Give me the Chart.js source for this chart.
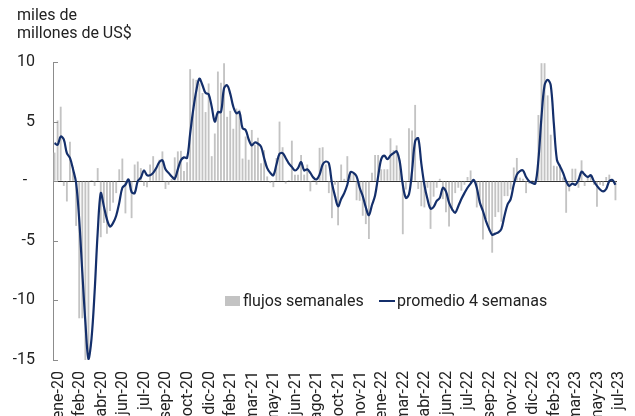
<!DOCTYPE html>
<html>
<head>
<meta charset="utf-8">
<script src="https://cdn.jsdelivr.net/npm/chart.js@4.4.0/dist/chart.umd.min.js"></script>
<style>
  html, body { margin: 0; padding: 0; background: #fff; overflow: hidden; }
  body { width: 635px; height: 416px; position: relative; font-family: Roboto, sans-serif; color: #222; }
  #wrap { position: absolute; left: 0; top: 0; width: 635px; height: 426px; }
  .title { position: absolute; left: 17px; top: 6px; font-size: 16px; line-height: 18px; }
  .legend { position: absolute; top: 291px; font-size: 16px; line-height: 20px; white-space: nowrap; }
  .legend .box { display: inline-block; width: 15px; height: 10px; background: #c3c3c3; vertical-align: middle; margin-right: 3px; position: relative; top: -1px; }
  .legend .ln { display: inline-block; width: 16px; height: 2px; background: #142f6b; vertical-align: middle; margin-right: 2px; position: relative; top: -1px; }
</style>
</head>
<body>
<div id="wrap"><canvas id="chart"></canvas></div>
<div class="title">miles de<br>millones de US$</div>
<div class="legend" style="left:225px"><span class="box"></span>flujos semanales</div>
<div class="legend" style="left:379px"><span class="ln"></span>promedio 4 semanas</div>
<script>
// weekly flows (bars), from first week of Jan-2020 to Jul-2023
const flows = [
  2.4, 5.1, 6.25, -0.4, -1.7, 3.3, 1.2, -3.75, -11.5, -11.5,
  -15, -15, 0.1, -0.4, 1.1, -4.7, -3.5, -4.4, -2.5, -1.8,
  -1.0, 1.0, 1.9, -2.7, 0.1, -3.1, 1.4, 1.65, 1.1, -0.4,
  -0.5, 1.4, 2.1, 1.0, 1.8, 2.5, -0.65, -0.3, 0.2, 2.0,
  2.5, 2.55, 0.85, 1.6, 9.4, 8.6, 8.5, 8.2, 7.4, 5.8,
  8.2, 2.1, 4.0, 9.2, 8.25, 9.9, 5.4, 5.9, 4.4, 6.1,
  6.0, 1.9, 3.75, 1.8, 4.3, 3.05, 3.65, 1.5, 2.6, 0.4,
  -0.15, -0.5, 1.95, 5.0, 2.85, -0.2, 0.1, 3.4, 0.55, 0.55,
  2.2, 0.55, 1.4, -0.85, 0.1, -0.3, 2.8, 2.85, 1.4, -1.0,
  -3.1, -0.3, -3.7, 1.4, 0.2, 2.1, 0.65, 0.6, -1.6, -1.65,
  -2.9, -3.6, -4.85, 0.7, 2.2, 2.2, 1.0, 1.0, 1.0, 3.6,
  2.6, 3.0, 1.8, -4.45, -0.7, 4.45, 4.25, 6.4, -0.65, -2.1,
  -2.2, -0.55, -4.0, -1.3, -0.55, 0.2, -1.5, -2.6, -3.8, -2.5,
  -1.0, -0.55, -0.8, -0.3, 0.35, 0.9, 0.1, -2.2, -1.8, -4.9,
  -3.2, -4.15, -6.0, -3.0, -2.6, -3.4, -1.25, -1.25, -0.7, 1.15,
  1.95, 0.3, 0.2, -1.0, -0.2, 0.1, -0.2, 5.55, 9.9, 9.9,
  7.2, 3.9, 1.3, 1.25, 1.4, 0.3, -2.65, -0.85, 1.05, 1.05,
  -0.55, 1.75, -0.4, 0.5, 0.4, -0.3, -2.15, -0.3, -0.4, 0.35,
  0.55, 0.2, -1.6
];

// 4-week moving average (line)
const avg4 = [
  3.2, 3.05, 3.75, 3.5, 2.35, 1.95, 1.0, -0.15, -3.2, -7.6,
  -11.8, -14.9, -13.2, -9.3, -4.3, -1.0, -2.1, -3.2, -3.8, -3.5,
  -2.9, -1.8, -0.55, -0.3, 0.15, -0.9, -1.0, 0.0, 0.3, 0.9,
  0.5, 0.5, 0.7, 1.1, 1.6, 1.75, 1.0, 0.7, 0.4, 0.2,
  1.0, 1.75, 2.0, 1.95, 4.0, 6.0, 7.6, 8.6, 8.05, 7.4,
  7.3, 6.25, 5.0, 5.8, 5.8, 7.8, 8.05, 7.35, 6.25, 5.7,
  5.8, 4.45, 4.3, 3.5, 3.0, 3.25, 3.15, 2.9, 1.95, 1.1,
  0.7, 0.5, 1.4, 2.3, 2.35, 1.95, 1.5, 1.2, 0.9, 1.1,
  1.6, 0.9, 1.0, 0.7, 0.3, 0.15, 0.55, 1.4, 1.65, 1.5,
  -0.15, -1.25, -2.1, -1.5, -1.0, -0.3, 0.75, 0.7, 0.4, -0.55,
  -1.25, -2.2, -2.85, -2.0, -1.2, 0.4, 1.85, 2.15, 1.85, 2.15,
  2.35, 2.5, 1.65, -0.3, -1.4, -1.1, 0.85, 3.35, 3.6, 1.5,
  -0.3, -1.5, -2.3, -2.15, -1.65, -1.4, -0.55, -0.85, -1.8, -2.35,
  -2.65, -2.1, -1.5, -1.0, -0.55, -0.2, 0.1, -0.55, -1.8, -2.5,
  -3.35, -4.0, -4.5, -4.4, -4.3, -4.0, -2.9, -1.95, -1.5, -0.3,
  0.55, 0.85, 0.9, 0.35, 0.0, -0.15, -0.2, 1.8, 5.4, 8.05,
  8.5, 8.05, 4.85, 1.8, 1.25, 0.7, 0.0, -0.4, -0.2, -0.3,
  0.1, 0.8, 0.55, 0.35, 0.5, 0.0, -0.4, -0.7, -0.85, -0.65,
  0.0, 0.1, -0.3
];

// axis labels, one every 7 weeks
const tickLabels = [
  'ene-20', 'feb-20', 'abr-20', 'jun-20', 'jul-20', 'sep-20', 'oct-20', 'dic-20',
  'feb-21', 'mar-21', 'may-21', 'jun-21', 'ago-21', 'oct-21', 'nov-21',
  'ene-22', 'mar-22', 'abr-22', 'jun-22', 'jul-22', 'sep-22', 'nov-22', 'dic-22',
  'feb-23', 'mar-23', 'may-23', 'jul-23'
];
const labelEvery = 7;
const yTicks = [-15, -10, -5, 0, 5, 10];

// week categories (dates of each weekly observation)
const start = new Date(2020, 0, 8);
const weeks = flows.map((_, i) => {
  const d = new Date(start.getTime() + i * 7 * 86400000);
  return d.toISOString().slice(0, 10);
});

// small inward tick marks on the y axis
const innerTicks = {
  id: 'innerTicks',
  afterDraw(chart) {
    const { ctx, chartArea, scales } = chart;
    ctx.save();
    ctx.strokeStyle = '#8c8c8c';
    ctx.lineWidth = 1;
    yTicks.forEach(v => {
      const y = Math.round(scales.y.getPixelForValue(v)) + 0.5;
      ctx.beginPath();
      ctx.moveTo(chartArea.left, y);
      ctx.lineTo(chartArea.left + 5, y);
      ctx.stroke();
    });
    ctx.restore();
  }
};

Chart.defaults.font.family = 'Roboto, sans-serif';
Chart.defaults.color = '#222';

new Chart(document.getElementById('chart'), {
  type: 'bar',
  data: {
    labels: weeks,
    datasets: [
      {
        type: 'line',
        label: 'promedio 4 semanas',
        data: avg4,
        borderColor: '#142f6b',
        borderWidth: 2.2,
        pointRadius: 0,
        tension: 0.35,
        fill: false,
        order: 0
      },
      {
        label: 'flujos semanales',
        data: flows,
        backgroundColor: '#c3c3c3',
        barPercentage: 0.6,
        categoryPercentage: 1.0,
        order: 1
      }
    ]
  },
  options: {
    responsive: true,
    maintainAspectRatio: false,
    animation: false,
    layout: { padding: { left: 13, right: 18, top: 62, bottom: 0 } },
    plugins: { legend: { display: false }, tooltip: { enabled: false } },
    scales: {
      x: {
        grid: { display: false, drawTicks: false },
        border: { display: false },
        afterFit: s => { s.height = 66; s.paddingLeft = 0; s.paddingRight = 0; },
        ticks: {
          autoSkip: false,
          maxRotation: 90,
          minRotation: 90,
          padding: 11,
          labelOffset: 4,
          font: { size: 16 },
          color: '#222',
          callback: (v, i) => (i % labelEvery === 0 ? tickLabels[i / labelEvery] : null)
        }
      },
      y: {
        min: -15,
        max: 10,
        afterFit: s => { s.width = 40; },
        grid: {
          drawTicks: false,
          color: c => (c.tick && c.tick.value === 0 ? '#333' : 'rgba(0,0,0,0)'),
          lineWidth: 1
        },
        border: { display: true, color: '#8c8c8c', width: 1 },
        ticks: {
          stepSize: 5,
          padding: 18,
          font: { size: 16 },
          color: '#222',
          callback: v => (v === 0 ? '-  ' : v)
        }
      }
    }
  },
  plugins: [innerTicks]
});
</script>
</body>
</html>
